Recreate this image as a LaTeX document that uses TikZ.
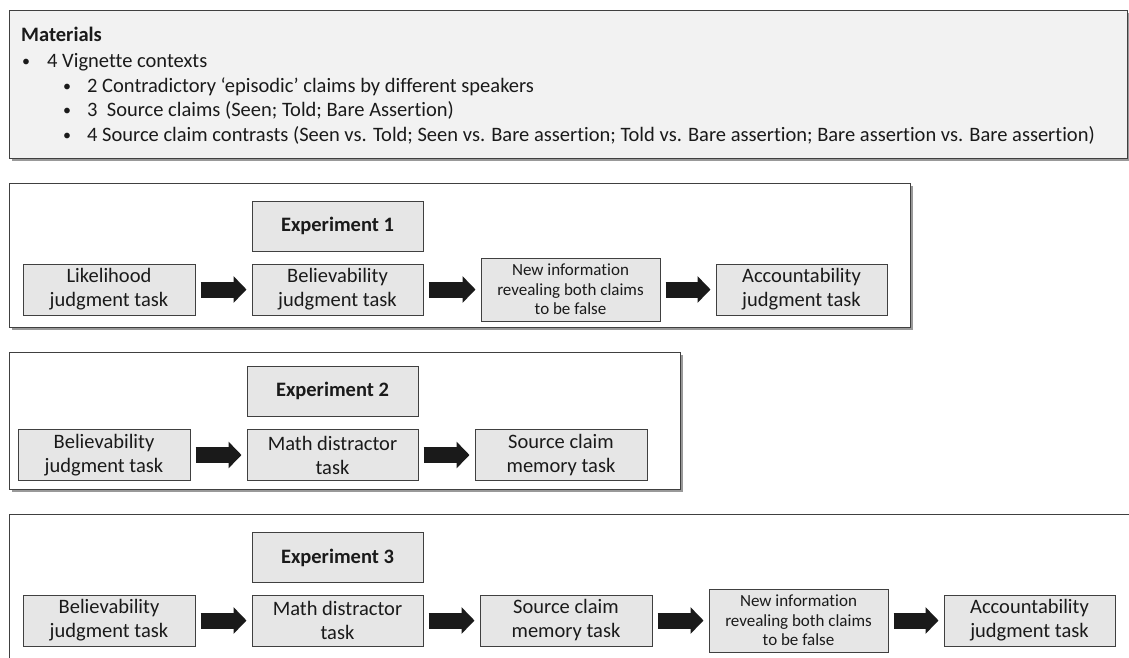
\documentclass[tikz,border=0pt]{standalone}
\usepackage{fontspec}
\setmainfont{Carlito}[Ligatures={NoCommon}]
\usetikzlibrary{arrows.meta,shadows,calc}
\definecolor{framec}{HTML}{404040}
\definecolor{matfill}{HTML}{F2F2F2}
\definecolor{taskfill}{HTML}{E6E6E6}
\definecolor{arrowc}{HTML}{1A1A1A}
\definecolor{txt}{HTML}{1A1A1A}
\begin{document}
\begin{tikzpicture}[x=1pt,y=-1pt,
  frame/.style={draw=framec, line width=1.4pt, inner sep=0pt, anchor=north west,
    drop shadow={shadow xshift=1.8pt, shadow yshift=-1.8pt, opacity=0.4, fill=black}},
  task/.style={draw=framec, fill=taskfill, line width=1pt, align=center, inner sep=0pt,
    font=\fontsize{20.5}{24}\selectfont, text=txt, minimum width=172pt, minimum height=51pt},
  smalltask/.style={task, font=\fontsize{17}{19.5}\selectfont, minimum width=179pt, minimum height=63pt},
  title/.style={task, font=\fontsize{20.5}{24}\selectfont\bfseries, minimum width=171pt, minimum height=50pt},
  mtext/.style={anchor=base west, inner sep=0pt, font=\fontsize{20.5}{24}\selectfont, text=txt},
  bul/.style={anchor=base west, inner sep=0pt, font=\fontsize{16}{20}\selectfont, text=txt},
  flow/.style={line width=16pt, draw=arrowc, shorten <=5pt, shorten >=5pt,
    -{Triangle[width=26pt,length=13pt]}}
]
\useasboundingbox (0,0) rectangle (1129,657);
\fill[white] (0,0) rectangle (1129,657);

% Materials
\node[frame, fill=matfill, minimum width=1118pt, minimum height=148pt] (mat) at (9,10) {};
\node[mtext] (m0) at (21,41) {\bfseries Materials};
\node[bul] (b1) at (22,66) {•};
\node[mtext] (m1) at (47,67) {4 Vignette contexts};
\node[bul] (b2) at (63,91) {•};
\node[mtext] (m2) at (87,92) {2 Contradictory ‘episodic’ claims by different speakers};
\node[bul] (b3) at (63,115) {•};
\node[mtext] (m3) at (87,116) {3~ Source claims (Seen; Told; Bare Assertion)};
\node[bul] (b4) at (63,140) {•};
\node[mtext] (m4) at (87,141) {4 Source claim contrasts (Seen vs. Told; Seen vs. Bare assertion; Told vs. Bare assertion; Bare assertion vs. Bare assertion)};

% Experiment 1
\node[frame, fill=white, minimum width=901pt, minimum height=144pt] (f1) at (9,183) {};
\node[title] (e1t) at (337.5,226) {Experiment 1};
\node[task] (e1a) at (109,289.5) {Likelihood\\judgment task};
\node[task, minimum width=171pt] (e1b) at (337.5,289.5) {Believability\\judgment task};
\node[smalltask] (e1c) at (570.5,289.5) {New information\\revealing both claims\\to be false};
\node[task, minimum width=171pt] (e1d) at (801.5,289.5) {Accountability\\judgment task};
\draw[flow] (e1a.east) -- (e1b.west);
\draw[flow] (e1b.east) -- (e1c.west);
\draw[flow] (e1c.east) -- (e1d.west);

% Experiment 2
\node[frame, fill=white, minimum width=671pt, minimum height=137pt] (f2) at (9,352) {};
\node[title] (e2t) at (332.5,391) {Experiment 2};
\node[task] (e2a) at (104,455) {Believability\\judgment task};
\node[task, minimum width=171pt] (e2b) at (332.5,455) {Math distractor\\task};
\node[task] (e2c) at (561,455) {Source claim\\memory task};
\draw[flow] (e2a.east) -- (e2b.west);
\draw[flow] (e2b.east) -- (e2c.west);

% Experiment 3
\node[frame, fill=white, minimum width=1140pt, minimum height=200pt] (f3) at (9,514) {};
\node[title] (e3t) at (337.5,557.5) {Experiment 3};
\node[task] (e3a) at (109,620.5) {Believability\\judgment task};
\node[task, minimum width=171pt] (e3b) at (337.5,620.5) {Math distractor\\task};
\node[task] (e3c) at (566,620.5) {Source claim\\memory task};
\node[smalltask] (e3d) at (798.5,620.5) {New information\\revealing both claims\\to be false};
\node[task, minimum width=171pt] (e3e) at (1029.5,620.5) {Accountability\\judgment task};
\draw[flow] (e3a.east) -- (e3b.west);
\draw[flow] (e3b.east) -- (e3c.west);
\draw[flow] (e3c.east) -- (e3d.west);
\draw[flow] (e3d.east) -- (e3e.west);
\end{tikzpicture}
\end{document}
